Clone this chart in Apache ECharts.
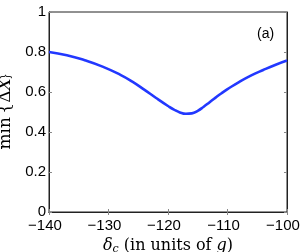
<!DOCTYPE html>
<html>
<head>
<meta charset="utf-8">
<script src="https://cdn.jsdelivr.net/npm/echarts@6/dist/echarts.min.js"></script>
<style>html,body{margin:0;padding:0;background:#fff}#c{width:300px;height:252px}</style>
</head>
<body>
<div id="c"></div>
<script>
const detuning = [-140, -137, -134, -131, -128, -126, -124, -122, -120, -119, -118, -117, -116, -115, -114, -113, -112, -111, -110, -108, -106, -104, -102, -100];
const minDeltaX = [0.800, 0.784, 0.759, 0.727, 0.686, 0.652, 0.612, 0.570, 0.530, 0.512, 0.498, 0.491, 0.493, 0.506, 0.526, 0.549, 0.572, 0.594, 0.614, 0.651, 0.683, 0.710, 0.735, 0.757];
const xTicks = [-140, -130, -120, -110, -100];
const yTicks = [0, 0.2, 0.4, 0.6, 0.8, 1];
const panelLabel = '(a)';

const chart = echarts.init(document.getElementById('c'), null, {renderer: 'canvas'});
const tickFont = {fontFamily: 'Liberation Sans', fontSize: 15, color: '#000'};
const fmtX = v => String(v).replace('-', '\u2212');
const fmtY = v => String(v);
chart.setOption({
  animation: false,
  backgroundColor: '#fff',
  grid: {left: 49, right: 13, top: 12, bottom: 40, show: true, borderColor: '#222', borderWidth: 1, containLabel: false, outerBoundsMode: 'none'},
  xAxis: [{
    type: 'value', min: xTicks[0], max: xTicks[xTicks.length - 1], interval: 10,
    axisLine: {show: true, lineStyle: {color: '#222'}},
    axisTick: {inside: true, length: 3, lineStyle: {color: '#888'}},
    splitLine: {show: false},
    axisLabel: Object.assign({formatter: fmtX, margin: 6, padding: [0, 8, 0, 0]}, tickFont),
    name: '{d|δ}{s|c}{r| (in units of }{i|g}{r|)}',
    nameLocation: 'middle', nameGap: 22,
    nameTextStyle: {
      rich: {
        d: {fontFamily: 'DejaVu Serif', fontStyle: 'italic', fontSize: 16, color: '#000'},
        s: {fontFamily: 'DejaVu Serif', fontStyle: 'italic', fontSize: 11, color: '#000', verticalAlign: 'bottom', padding: [7, 0, 0, 0]},
        r: {fontFamily: 'DejaVu Serif', fontSize: 16, color: '#000'},
        i: {fontFamily: 'DejaVu Serif', fontStyle: 'italic', fontSize: 16, color: '#000'}
      }
    }
  }, {
    type: 'value', position: 'top', min: xTicks[0], max: xTicks[xTicks.length - 1], interval: 10,
    axisLine: {show: true, lineStyle: {color: '#222'}},
    axisTick: {inside: true, length: 3, lineStyle: {color: '#888'}},
    axisLabel: {show: false}, splitLine: {show: false}
  }],
  yAxis: [{
    type: 'value', min: 0, max: 1, interval: 0.2,
    axisLine: {show: true, lineStyle: {color: '#222'}},
    axisTick: {inside: true, length: 3, lineStyle: {color: '#888'}},
    splitLine: {show: false},
    axisLabel: Object.assign({formatter: fmtY, margin: 3}, tickFont),
    name: '{r|min\u2009{Δ}{i|X}{r|}}',
    nameLocation: 'middle', nameGap: 27, nameRotate: 90,
    nameTextStyle: {
      rich: {
        r: {fontFamily: 'DejaVu Serif', fontSize: 17, color: '#000'},
        i: {fontFamily: 'DejaVu Serif', fontStyle: 'italic', fontSize: 17, color: '#000'}
      }
    }
  }, {
    type: 'value', position: 'right', min: 0, max: 1, interval: 0.2,
    axisLine: {show: true, lineStyle: {color: '#222'}},
    axisTick: {inside: true, length: 3, lineStyle: {color: '#888'}},
    axisLabel: {show: false}, splitLine: {show: false}
  }],
  graphic: [{
    type: 'text', left: 257, top: 27,
    style: {text: panelLabel, fontFamily: 'Liberation Sans', fontSize: 14, fill: '#000'}
  }],
  series: [{
    type: 'line', smooth: 0.5, showSymbol: false,
    data: detuning.map((x, i) => [x, minDeltaX[i]]),
    lineStyle: {color: '#2238ff', width: 2.6}
  }]
});
</script>
</body>
</html>
